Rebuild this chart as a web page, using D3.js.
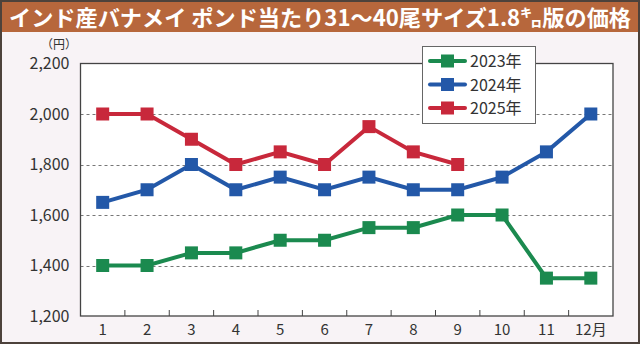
<!DOCTYPE html>
<html><head><meta charset="utf-8">
<script src="https://cdn.jsdelivr.net/npm/d3@7"></script>
<style>
html,body{margin:0;padding:0;background:#fff;}
svg{display:block;}
text{font-family:"Noto Sans CJK JP","Noto Sans",sans-serif;}
</style></head>
<body>
<svg id="c" width="640" height="344"></svg>
<script>
const title = "インド産バナメイ ポンド当たり31～40尾サイズ1.8㌔版の価格";
const months = ["1","2","3","4","5","6","7","8","9","10","11","12月"];
const yTicks = [1200,1400,1600,1800,2000,2200];
const seriesNames = ["2023年","2024年","2025年"];
const seriesColors = ["#1b8a4f","#2358a8","#c8283b"];
const v2023 = [1400,1400,1450,1450,1500,1500,1550,1550,1600,1600,1350,1350];
const v2024 = [1650,1700,1800,1700,1750,1700,1750,1700,1700,1750,1850,2000];
const v2025 = [2000,2000,1900,1800,1850,1800,1950,1850,1800];
const seriesValues = [v2023, v2024, v2025];

const svg = d3.select("#c");
const W = 640, H = 344;
svg.append("rect").attr("x",0).attr("y",0).attr("width",W).attr("height",H).attr("fill","#4d423b");
svg.append("rect").attr("x",2).attr("y",2).attr("width",W-4).attr("height",H-4).attr("fill","#f8f3f6");
svg.append("rect").attr("x",2).attr("y",2).attr("width",W-4).attr("height",30).attr("fill","#b7673c");
svg.append("text").attr("x",9).attr("y",26).attr("fill","#fff")
  .attr("font-size",22).attr("font-weight","bold")
  .attr("textLength",622).attr("lengthAdjust","spacingAndGlyphs")
  .text(title);

const m = {l:80.5, r:613, t:63.5, b:316};
const x = d3.scaleBand().domain(months).range([m.l, m.r]);
const y = d3.scaleLinear().domain([1200,2200]).range([m.b, m.t]);

svg.append("rect").attr("x",m.l).attr("y",m.t).attr("width",m.r-m.l).attr("height",m.b-m.t).attr("fill","#fff");

svg.append("g").selectAll("line").data(yTicks.filter(d=>d>1200 && d<2200)).join("line")
  .attr("x1",m.l).attr("x2",m.r).attr("y1",d=>Math.round(y(d))+0.5).attr("y2",d=>Math.round(y(d))+0.5)
  .attr("stroke","#777").attr("stroke-width",1).attr("stroke-dasharray","3,3");

svg.append("rect").attr("x",m.l).attr("y",m.t).attr("width",m.r-m.l).attr("height",m.b-m.t)
  .attr("fill","none").attr("stroke","#444").attr("stroke-width",1.3);

const yAxis = d3.axisLeft(y).tickValues(yTicks).tickFormat(d3.format(",")).tickSize(0).tickPadding(11);
const ga = svg.append("g").attr("transform",`translate(${m.l},0)`).call(yAxis);
ga.select(".domain").remove();
ga.selectAll("text").attr("font-size",16).attr("fill","#333").attr("font-family","'Noto Sans CJK JP',sans-serif");
svg.append("text").attr("x",59).attr("y",49).attr("text-anchor","middle").attr("font-size",12).attr("fill","#333").text("（円）");

const xAxis = d3.axisBottom(x).tickSize(0).tickPadding(8);
const gx = svg.append("g").attr("transform",`translate(0,${m.b})`).call(xAxis);
gx.select(".domain").remove();
gx.selectAll("text").attr("font-size",15).attr("fill","#333").attr("font-family","'Noto Sans CJK JP',sans-serif");
svg.append("g").selectAll("line").data(months.slice(1)).join("line")
  .attr("x1",d=>x(d)).attr("x2",d=>x(d)).attr("y1",m.b).attr("y2",m.b-6)
  .attr("stroke","#444").attr("stroke-width",1);

const cx = d => x(d) + x.bandwidth()/2;
const line = d3.line().x((d,i)=>cx(months[i])).y(d=>y(d));
seriesValues.forEach((vals,si)=>{
  const g = svg.append("g");
  g.append("path").datum(vals).attr("d",line).attr("fill","none")
    .attr("stroke",seriesColors[si]).attr("stroke-width",4);
  g.selectAll("rect").data(vals).join("rect")
    .attr("x",(d,i)=>cx(months[i])-6.5).attr("y",d=>y(d)-6.5)
    .attr("width",13).attr("height",13).attr("fill",seriesColors[si]);
});

const lg = svg.append("g");
lg.append("rect").attr("x",422.5).attr("y",46.5).attr("width",113).attr("height",77)
  .attr("fill","#fff").attr("stroke","#666").attr("stroke-width",1);
seriesNames.forEach((n,i)=>{
  const yy = 61 + i*23.5;
  lg.append("line").attr("x1",430).attr("x2",465).attr("y1",yy).attr("y2",yy)
    .attr("stroke",seriesColors[i]).attr("stroke-width",4).attr("stroke-linecap","round");
  lg.append("rect").attr("x",441).attr("y",yy-6.5).attr("width",13).attr("height",13).attr("fill",seriesColors[i]);
  lg.append("text").attr("x",470).attr("y",yy+6).attr("font-size",16).attr("fill","#333").text(n);
});
</script>
</body></html>
